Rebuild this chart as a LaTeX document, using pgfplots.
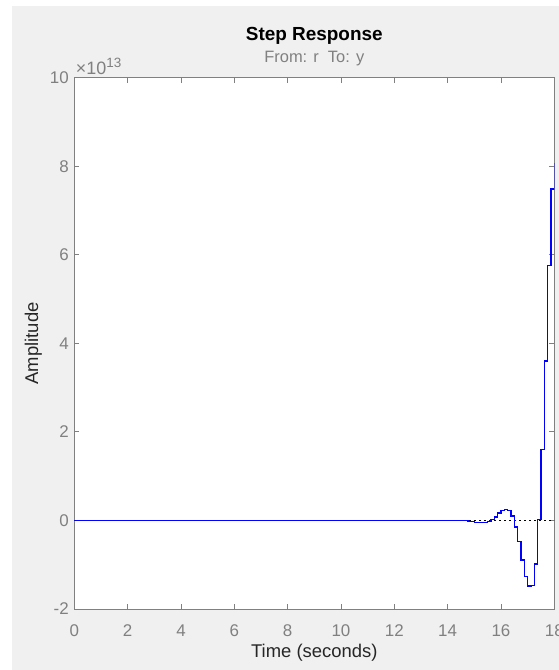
\documentclass[border=0pt]{standalone}
\usepackage{fontspec}
\setmainfont{Liberation Sans}
\usepackage{pgfplots}
\pgfplotsset{compat=1.18}
\definecolor{figbg}{RGB}{240,240,240}
\definecolor{axgray}{RGB}{128,128,128}
\definecolor{labdark}{RGB}{38,38,38}
\definecolor{mblue}{RGB}{0,0,255}
\begin{document}
\begin{tikzpicture}
\useasboundingbox (-74.3bp,-61bp) rectangle (484.7bp,609bp);
\clip (-74.3bp,-61bp) rectangle (484.7bp,609bp);
\fill[white] (-74.3bp,-61bp) rectangle (484.7bp,609bp);
\fill[figbg] (-62.3bp,-61bp) rectangle (484.7bp,603bp);
\begin{axis}[
  at={(0,0)}, anchor=south west,
  scale only axis, width=480bp, height=531.3bp,
  xmin=0, xmax=18, ymin=-2, ymax=10,
  axis background/.style={fill=white},
  axis line style={axgray, line width=0.8bp},
  xtick={0,2,...,18}, xticklabels={0,2,4,6,8,10,12,14,16,18},
  ytick={-2,0,...,10}, yticklabels={-2,0,2,4,6,8,10},
  tick align=inside, tick pos=both,
  major tick length=5bp,
  tick style={axgray, line width=0.8bp},
  tick label style={font=\fontsize{17}{20}\selectfont, text=axgray},
  xticklabel style={yshift=-12bp},
  yticklabel style={xshift=-2bp},
  xlabel={Time (seconds)}, ylabel={Amplitude},
  label style={font=\fontsize{18.5}{22}\selectfont, text=labdark},
  xlabel style={at={(axis description cs:0.5,-0.083)}, anchor=center},
  ylabel style={at={(axis description cs:-0.0855,0.5)}, anchor=center},
  clip=true,
]
\addplot[draw=black, line width=1bp, dash pattern=on 1.3bp off 3.7bp] coordinates {(0,0) (18,0)};
\addplot[const plot, draw=mblue, line width=1.5bp, line join=miter, mark=none] coordinates {
  (0,0) (14.77,-0.02) (15.0,-0.05) (15.5,-0.02) (15.625,0.02) (15.75,0.08)
  (15.875,0.17) (16.0,0.23) (16.125,0.25) (16.25,0.22) (16.375,0.1)
  (16.5,-0.15) (16.625,-0.47) (16.75,-0.89) (16.875,-1.27) (17.0,-1.48)
  (17.125,-1.47) (17.25,-0.98) (17.375,0.02) (17.5,1.6) (17.625,3.6)
  (17.75,5.76) (17.875,7.49) (18,8.07)
};
\end{axis}
\node[font=\fontsize{19}{22}\selectfont\bfseries, text=black] at (240bp,573bp) {Step Response};
\node[font=\fontsize{16.5}{20}\selectfont, text=axgray] at (240bp,550bp) {From: r\ \ To: y};
\node[font=\fontsize{18}{20}\selectfont, text=axgray, anchor=base west, inner sep=0pt]
  at (1.5bp,534bp) {×10\raisebox{0.42em}{\fontsize{13.5}{15}\selectfont 13}};
\end{tikzpicture}
\end{document}
